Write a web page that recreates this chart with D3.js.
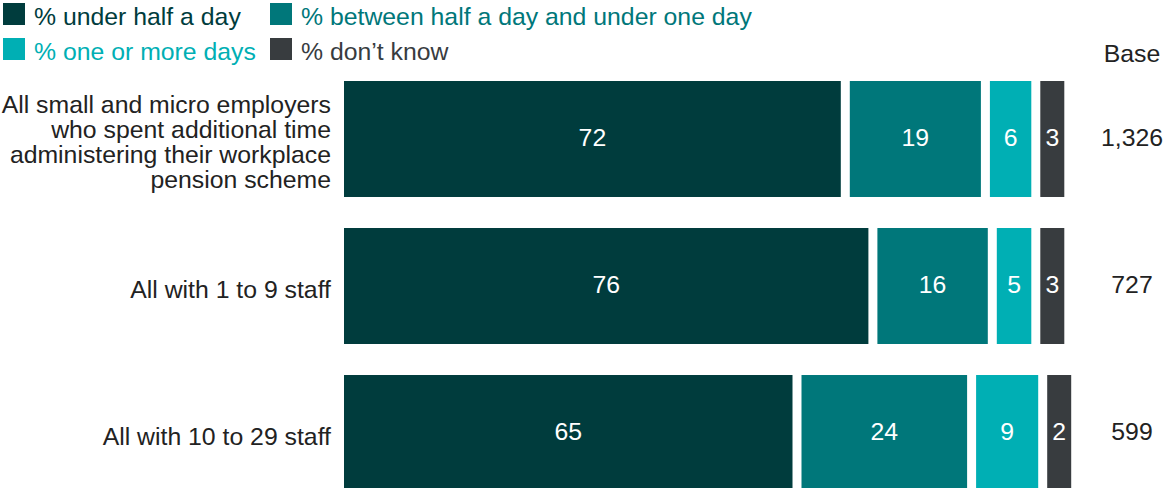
<!DOCTYPE html>
<html lang="en">
    <head>
        <meta charset="utf-8">
        <title>Time spent administering workplace pension</title>
        <script type="text/javascript" src="https://d3js.org/d3.v7.min.js"></script>
        <style type="text/css">
            body {
                margin: 0;
                background: white;
            }
            svg text {
                font-family: "Liberation Sans", Arial, sans-serif;
                font-size: 24.8px;
            }
        </style>
    </head>
    <body>
        <script type="text/javascript">

            var categories = [
                "All small and micro employers who spent additional time administering their workplace pension scheme",
                "All with 1 to 9 staff",
                "All with 10 to 29 staff"
            ];
            var categoryLines = [
                ["All small and micro employers", "who spent additional time", "administering their workplace", "pension scheme"],
                ["All with 1 to 9 staff"],
                ["All with 10 to 29 staff"]
            ];
            var seriesNames = ["% under half a day", "% between half a day and under one day", "% one or more days", "% don\u2019t know"];
            var underHalfDay = [72, 76, 65];
            var halfToOneDay = [19, 16, 24];
            var oneOrMoreDays = [6, 5, 9];
            var dontKnow = [3, 3, 2];
            var bases = ["1,326", "727", "599"];

            var colors = ["#003c3d", "#00777a", "#00afb4", "#383c3f"];

            var w = 1164, h = 488;
            var gap = 9;
            var minSeg = 24; // so the small labels still fit

            var svg = d3.select("body").append("svg")
                .attr("width", w)
                .attr("height", h);

            var rows = categories.map(function(c, i) {
                return [underHalfDay[i], halfToOneDay[i], oneOrMoreDays[i], dontKnow[i]];
            });

            var xscale = d3.scaleLinear()
                .domain([0, 100])
                .range([0, 690]);

            var yscale = d3.scaleBand()
                .domain(categories)
                .range([81, 491])
                .paddingInner(0.211)
                .paddingOuter(0);

            // legend
            var legendPos = [[3, 3], [270, 3], [3, 38], [270, 38]];
            var legend = svg.selectAll(".legend")
                .data(seriesNames)
                .enter()
                .append("g")
                .attr("class", "legend")
                .attr("transform", function(d, i) {
                    return "translate(" + legendPos[i][0] + "," + legendPos[i][1] + ")";
                });
            legend.append("rect")
                .attr("width", 22)
                .attr("height", 22)
                .attr("fill", function(d, i) { return colors[i]; });
            legend.append("text")
                .attr("x", 31)
                .attr("y", 22)
                .attr("fill", function(d, i) { return colors[i]; })
                .text(function(d) { return d; });

            // bars
            var rowG = svg.selectAll(".row")
                .data(rows)
                .enter()
                .append("g")
                .attr("class", "row")
                .attr("transform", function(d, i) {
                    return "translate(0," + yscale(categories[i]) + ")";
                });

            var seg = rowG.selectAll(".seg")
                .data(function(d) {
                    var x = 344;
                    return d.map(function(v, j) {
                        var wd = Math.max(xscale(v), minSeg);
                        var s = {v: v, j: j, x0: x, x1: x + wd};
                        x += wd + gap;
                        return s;
                    });
                })
                .enter()
                .append("g")
                .attr("class", "seg");

            seg.append("rect")
                .attr("x", function(d) { return d.x0; })
                .attr("y", 0)
                .attr("width", function(d) { return d.x1 - d.x0; })
                .attr("height", yscale.bandwidth())
                .attr("fill", function(d) { return colors[d.j]; });

            seg.append("text")
                .attr("x", function(d) { return (d.x0 + d.x1) / 2; })
                .attr("y", yscale.bandwidth() / 2 - 2)
                .attr("dy", "0.35em")
                .attr("text-anchor", "middle")
                .attr("fill", "white")
                .text(function(d) { return d.v; });

            // category labels
            rowG.append("text")
                .attr("text-anchor", "end")
                .attr("fill", "#222")
                .each(function(d, i) {
                    var lines = categoryLines[i];
                    var lh = 25;
                    var top = yscale.bandwidth() / 2 + 3 - (lines.length - 1) * lh / 2;
                    d3.select(this).selectAll("tspan")
                        .data(lines)
                        .enter()
                        .append("tspan")
                        .attr("x", 331)
                        .attr("y", function(l, k) { return top + k * lh; })
                        .attr("dy", "0.35em")
                        .text(function(l) { return l; });
                });

            // base column
            svg.append("text")
                .attr("x", 1132)
                .attr("y", 62)
                .attr("text-anchor", "middle")
                .attr("fill", "#222")
                .text("Base");

            rowG.append("text")
                .attr("x", 1132)
                .attr("y", yscale.bandwidth() / 2 - 2)
                .attr("dy", "0.35em")
                .attr("text-anchor", "middle")
                .attr("fill", "#222")
                .text(function(d, i) { return bases[i]; });

        </script>
    </body>
</html>
